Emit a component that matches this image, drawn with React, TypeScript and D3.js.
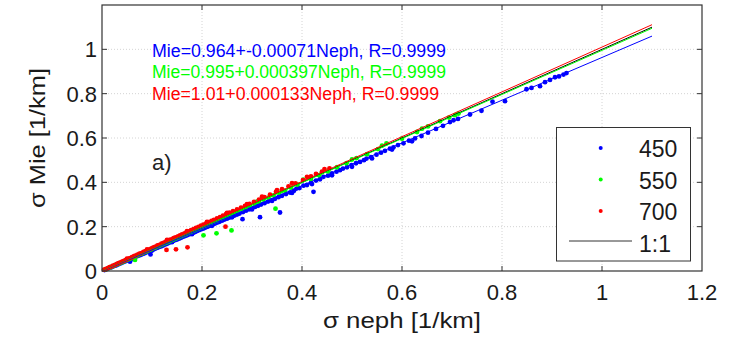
import * as d3 from 'd3';

// σ neph vs σ Mie: [neph, mie] in 1/km
const pts450: [number, number][] = [
  [0.005, 0.004], [0.009, 0.008], [0.013, 0.012], [0.017, 0.015], [0.021, 0.019], [0.025, 0.023],
  [0.029, 0.026], [0.033, 0.03], [0.037, 0.034], [0.041, 0.038], [0.045, 0.042], [0.049, 0.046],
  [0.053, 0.049], [0.056, 0.042], [0.058, 0.054], [0.062, 0.058], [0.066, 0.062], [0.07, 0.066],
  [0.074, 0.07], [0.078, 0.073], [0.082, 0.077], [0.086, 0.081], [0.09, 0.085], [0.094, 0.089],
  [0.097, 0.075], [0.098, 0.092], [0.102, 0.096], [0.106, 0.1], [0.11, 0.104], [0.114, 0.108],
  [0.118, 0.111], [0.122, 0.115], [0.126, 0.119], [0.13, 0.123], [0.134, 0.127], [0.138, 0.131],
  [0.142, 0.135], [0.146, 0.139], [0.15, 0.142], [0.154, 0.146], [0.158, 0.15], [0.162, 0.154],
  [0.166, 0.158], [0.17, 0.161], [0.174, 0.165], [0.178, 0.169], [0.182, 0.172], [0.186, 0.176],
  [0.19, 0.18], [0.194, 0.184], [0.198, 0.188], [0.202, 0.191], [0.206, 0.195], [0.21, 0.199],
  [0.214, 0.203], [0.218, 0.206], [0.222, 0.21], [0.226, 0.214], [0.23, 0.218], [0.235, 0.222],
  [0.24, 0.227], [0.245, 0.232], [0.25, 0.236], [0.255, 0.241], [0.26, 0.246], [0.265, 0.25],
  [0.27, 0.255], [0.275, 0.259], [0.281, 0.234], [0.282, 0.266], [0.288, 0.272], [0.294, 0.278],
  [0.3, 0.283], [0.306, 0.289], [0.312, 0.294], [0.316, 0.243], [0.318, 0.3], [0.325, 0.306],
  [0.332, 0.313], [0.339, 0.32], [0.346, 0.326], [0.353, 0.333], [0.356, 0.264], [0.36, 0.339],
  [0.368, 0.347], [0.376, 0.354], [0.384, 0.362], [0.389, 0.372], [0.395, 0.374], [0.403, 0.385],
  [0.41, 0.388], [0.418, 0.398], [0.423, 0.357], [0.428, 0.408], [0.436, 0.414], [0.443, 0.425],
  [0.452, 0.43], [0.46, 0.44], [0.469, 0.448], [0.476, 0.455], [0.482, 0.462], [0.49, 0.468],
  [0.499, 0.478], [0.508, 0.486], [0.516, 0.492], [0.524, 0.5], [0.529, 0.507], [0.538, 0.514],
  [0.549, 0.525], [0.558, 0.534], [0.566, 0.542], [0.576, 0.552], [0.583, 0.558], [0.592, 0.568],
  [0.603, 0.576], [0.614, 0.588], [0.626, 0.598], [0.639, 0.609], [0.652, 0.624], [0.668, 0.641],
  [0.682, 0.655], [0.696, 0.672], [0.703, 0.68], [0.712, 0.686], [0.736, 0.706], [0.759, 0.723],
  [0.781, 0.764], [0.806, 0.766], [0.849, 0.82], [0.859, 0.826], [0.876, 0.834], [0.886, 0.852],
  [0.896, 0.862], [0.906, 0.874], [0.914, 0.878], [0.923, 0.886], [0.929, 0.893],
  // lower edge of the blue band
  [0.06, 0.054], [0.1, 0.092], [0.14, 0.13], [0.18, 0.166], [0.22, 0.204], [0.26, 0.242],
  [0.3, 0.278], [0.34, 0.316], [0.38, 0.352], [0.42, 0.392], [0.46, 0.432], [0.5, 0.47],
  [0.54, 0.508], [0.58, 0.548], [0.62, 0.585],
];

const pts550: [number, number][] = [
  [0.006, 0.006], [0.01, 0.01], [0.014, 0.014], [0.018, 0.018], [0.023, 0.022], [0.027, 0.027],
  [0.031, 0.031], [0.035, 0.035], [0.04, 0.039], [0.044, 0.044], [0.048, 0.048], [0.052, 0.052],
  [0.057, 0.056], [0.061, 0.061], [0.066, 0.05], [0.065, 0.065], [0.07, 0.069], [0.074, 0.074],
  [0.079, 0.078], [0.083, 0.083], [0.088, 0.087], [0.092, 0.092], [0.097, 0.096], [0.101, 0.101],
  [0.106, 0.105], [0.11, 0.11], [0.115, 0.114], [0.12, 0.119], [0.124, 0.124], [0.129, 0.128],
  [0.134, 0.133], [0.138, 0.138], [0.143, 0.142], [0.148, 0.147], [0.153, 0.152], [0.158, 0.157],
  [0.163, 0.162], [0.168, 0.167], [0.173, 0.172], [0.178, 0.177], [0.184, 0.183], [0.189, 0.188],
  [0.195, 0.194], [0.2, 0.199], [0.203, 0.161], [0.206, 0.205], [0.212, 0.211], [0.218, 0.217],
  [0.224, 0.223], [0.229, 0.17], [0.23, 0.229], [0.237, 0.236], [0.243, 0.242], [0.25, 0.249],
  [0.257, 0.256], [0.259, 0.183], [0.264, 0.263], [0.272, 0.271], [0.28, 0.279], [0.288, 0.286],
  [0.296, 0.295], [0.305, 0.303], [0.314, 0.312], [0.323, 0.322], [0.333, 0.331], [0.343, 0.341],
  [0.347, 0.281], [0.354, 0.352], [0.366, 0.363], [0.378, 0.376], [0.391, 0.389], [0.403, 0.412],
  [0.418, 0.415], [0.434, 0.432], [0.452, 0.449], [0.47, 0.468], [0.489, 0.486], [0.509, 0.509],
  [0.53, 0.527], [0.552, 0.55], [0.569, 0.576], [0.6, 0.597], [0.63, 0.627], [0.652, 0.652],
  [0.676, 0.676], [0.694, 0.692], [0.706, 0.703], [0.713, 0.71],
  [0.05, 0.051], [0.12, 0.122], [0.19, 0.192], [0.26, 0.262], [0.31, 0.313], [0.36, 0.362],
  [0.44, 0.445], [0.5, 0.503], [0.56, 0.566], [0.64, 0.642],
];

const pts700: [number, number][] = [
  [0.004, 0.006], [0.008, 0.009], [0.012, 0.013], [0.015, 0.017], [0.019, 0.02], [0.022, 0.024],
  [0.026, 0.027], [0.03, 0.032], [0.033, 0.035], [0.037, 0.039], [0.041, 0.043], [0.045, 0.047],
  [0.048, 0.05], [0.052, 0.055], [0.056, 0.058], [0.06, 0.062], [0.064, 0.067], [0.067, 0.069],
  [0.071, 0.074], [0.075, 0.078], [0.079, 0.081], [0.083, 0.086], [0.087, 0.09], [0.091, 0.094],
  [0.095, 0.098], [0.099, 0.102], [0.103, 0.107], [0.107, 0.11], [0.111, 0.115], [0.115, 0.118],
  [0.119, 0.123], [0.123, 0.127], [0.127, 0.131], [0.129, 0.095], [0.131, 0.135], [0.135, 0.14],
  [0.139, 0.143], [0.143, 0.148], [0.147, 0.152], [0.148, 0.098], [0.152, 0.156], [0.156, 0.161],
  [0.16, 0.165], [0.165, 0.17], [0.169, 0.174], [0.171, 0.107], [0.174, 0.179], [0.178, 0.184],
  [0.183, 0.189], [0.188, 0.194], [0.193, 0.199], [0.198, 0.205], [0.203, 0.209], [0.208, 0.214],
  [0.213, 0.22], [0.219, 0.226], [0.224, 0.231], [0.23, 0.237], [0.236, 0.243], [0.242, 0.25],
  [0.247, 0.2], [0.248, 0.256], [0.255, 0.263], [0.262, 0.27], [0.27, 0.278], [0.278, 0.286],
  [0.286, 0.294], [0.295, 0.303], [0.304, 0.312], [0.314, 0.322], [0.325, 0.333], [0.336, 0.344],
  [0.348, 0.357], [0.36, 0.369], [0.373, 0.382], [0.387, 0.395], [0.402, 0.41], [0.418, 0.427],
  [0.428, 0.438], [0.44, 0.448], [0.455, 0.463],
  // upper edge of the red band
  [0.05, 0.056], [0.09, 0.097], [0.13, 0.14], [0.17, 0.18], [0.21, 0.222], [0.25, 0.262],
  [0.29, 0.302], [0.32, 0.335], [0.35, 0.365], [0.38, 0.396], [0.41, 0.425], [0.445, 0.46],
];

const seriesNames = ['450', '550', '700'];
const seriesColors = ['#0000ff', '#00ff00', '#ff0000'];
const seriesPoints = [pts450, pts550, pts700];

// fitted lines  Mie = a*Neph + b  (as printed on the figure)
const fitSlopes = [0.964, 0.995, 1.01];
const fitIntercepts = [-0.00071, 0.000397, 0.000133];
const fitLabels = [
  'Mie=0.964+-0.00071Neph, R=0.9999',
  'Mie=0.995+0.000397Neph, R=0.9999',
  'Mie=1.01+0.000133Neph, R=0.9999',
];
const lineEnd = 1.1;

const xTicks = [0, 0.2, 0.4, 0.6, 0.8, 1, 1.2];
const yTicks = [0, 0.2, 0.4, 0.6, 0.8, 1];

const W = 732;
const H = 338;
const FONT = '"Liberation Sans", Arial, Helvetica, sans-serif';

export default function App() {
  const x = d3.scaleLinear().domain([0, 1.2]).range([102, 702]);
  const y = d3.scaleLinear().domain([0, 1.2]).range([271, 5]);
  const [x0, x1] = x.range();
  const [y0, y1] = y.range();
  const fmt = (v: number) => d3.format('~g')(v);
  const line = d3.line<[number, number]>().x(d => x(d[0])).y(d => y(d[1]));
  const tick = 5;

  return (
    <svg width={W} height={H} style={{ position: 'absolute', left: 0, top: 0, background: '#fff' }}
      fontFamily={FONT}>
      {/* grid */}
      <g stroke="#d4d4d4" strokeWidth={1} strokeDasharray="1,2">
        {xTicks.slice(1, -1).map(t => (
          <line key={'gx' + t} x1={x(t)} x2={x(t)} y1={y0} y2={y1} />
        ))}
        {yTicks.slice(1).map(t => (
          <line key={'gy' + t} x1={x0} x2={x1} y1={y(t)} y2={y(t)} />
        ))}
      </g>

      {/* scatter */}
      {seriesPoints.map((pts, i) => (
        <g key={'s' + i} fill={seriesColors[i]}>
          {pts.map((p, j) => (
            <circle key={j} cx={x(p[0])} cy={y(p[1])} r={2.4} />
          ))}
        </g>
      ))}

      {/* 1:1 and fits */}
      <path d={line([[0, 0], [lineEnd, lineEnd]]) ?? ''} stroke="#000" strokeWidth={1} fill="none" />
      {fitSlopes.map((a, i) => (
        <path key={'f' + i}
          d={line([[0, fitIntercepts[i]], [lineEnd, a * lineEnd + fitIntercepts[i]]]) ?? ''}
          stroke={seriesColors[i]} strokeWidth={1} fill="none" />
      ))}

      {/* fit labels */}
      {fitLabels.map((s, i) => (
        <text key={'l' + i} x={152} y={56.5 + i * 21.7} fontSize={18} fill={seriesColors[i]}
          textLength={i === 2 ? 287 : 294} lengthAdjust="spacingAndGlyphs">{s}</text>
      ))}
      <text x={152} y={170} fontSize={22} fill="#222">a)</text>

      {/* axes box + ticks */}
      <rect x={x0} y={y1} width={x1 - x0} height={y0 - y1} fill="none" stroke="#333" strokeWidth={1.2} />
      <g stroke="#333" strokeWidth={1}>
        {xTicks.slice(1, -1).map(t => (
          <g key={'tx' + t}>
            <line x1={x(t)} x2={x(t)} y1={y0} y2={y0 - tick} />
            <line x1={x(t)} x2={x(t)} y1={y1} y2={y1 + tick} />
          </g>
        ))}
        {yTicks.slice(1).map(t => (
          <g key={'ty' + t}>
            <line x1={x0} x2={x0 + tick} y1={y(t)} y2={y(t)} />
            <line x1={x1} x2={x1 - tick} y1={y(t)} y2={y(t)} />
          </g>
        ))}
      </g>
      <g fontSize={22} fill="#1a1a1a">
        {xTicks.map(t => (
          <text key={'xl' + t} x={x(t)} y={300} textAnchor="middle">{fmt(t)}</text>
        ))}
        {yTicks.map(t => (
          <text key={'yl' + t} x={97} y={y(t)} dy="0.36em" textAnchor="end">{fmt(t)}</text>
        ))}
      </g>
      <text x={(x0 + x1) / 2} y={328} fontSize={22} fill="#1a1a1a" textAnchor="middle"
        textLength={158} lengthAdjust="spacingAndGlyphs">σ neph [1/km]</text>
      <text transform={`translate(45,${(y0 + y1) / 2}) rotate(-90)`} fontSize={22} fill="#1a1a1a"
        textAnchor="middle" textLength={140} lengthAdjust="spacingAndGlyphs">σ Mie [1/km]</text>

      {/* legend */}
      <g>
        <rect x={556.5} y={127.5} width={134} height={133.5} fill="#fff" stroke="#333" strokeWidth={1} />
        {seriesNames.map((n, i) => (
          <g key={'lg' + i}>
            <circle cx={600.7} cy={148 + i * 31.5} r={2} fill={seriesColors[i]} />
            <text x={639} y={157 + i * 31.5} fontSize={23} fill="#1a1a1a">{n}</text>
          </g>
        ))}
        <line x1={569} x2={632} y1={241} y2={241} stroke="#333" strokeWidth={1} />
        <text x={639} y={251.5} fontSize={23} fill="#1a1a1a">1:1</text>
      </g>
    </svg>
  );
}
